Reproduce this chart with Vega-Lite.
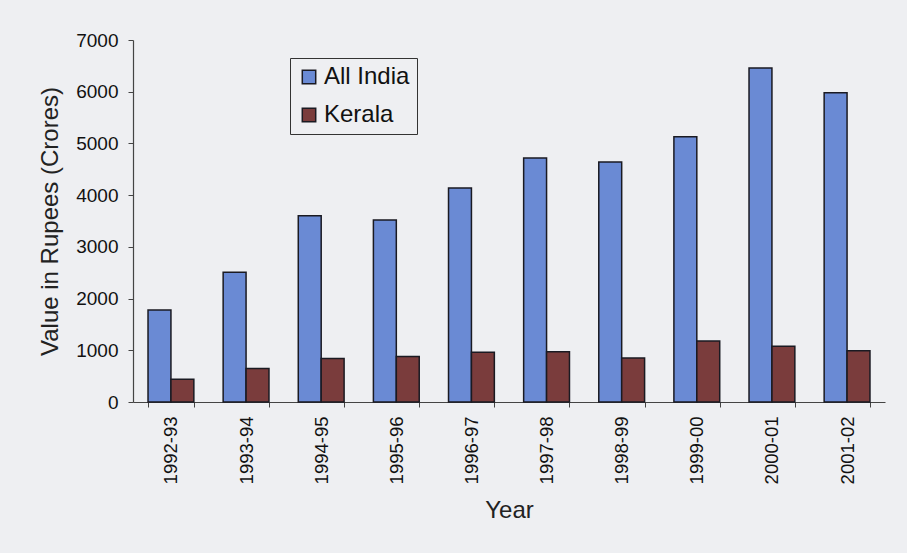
{
  "$schema": "https://vega.github.io/schema/vega-lite/v6.json",
  "autosize": {"type": "none"},
  "width": 752,
  "height": 362,
  "padding": {"left": 133, "top": 40, "right": 22, "bottom": 151},
  "background": "#eeeff2",
  "data": {
    "values": [
      {"year": "1992-93", "region": "All India", "value": 1780},
      {"year": "1993-94", "region": "All India", "value": 2510},
      {"year": "1994-95", "region": "All India", "value": 3600},
      {"year": "1995-96", "region": "All India", "value": 3520},
      {"year": "1996-97", "region": "All India", "value": 4140},
      {"year": "1997-98", "region": "All India", "value": 4720},
      {"year": "1998-99", "region": "All India", "value": 4640},
      {"year": "1999-00", "region": "All India", "value": 5130},
      {"year": "2000-01", "region": "All India", "value": 6460},
      {"year": "2001-02", "region": "All India", "value": 5980},
      {"year": "1992-93", "region": "Kerala", "value": 440},
      {"year": "1993-94", "region": "Kerala", "value": 650},
      {"year": "1994-95", "region": "Kerala", "value": 840},
      {"year": "1995-96", "region": "Kerala", "value": 880},
      {"year": "1996-97", "region": "Kerala", "value": 960},
      {"year": "1997-98", "region": "Kerala", "value": 970},
      {"year": "1998-99", "region": "Kerala", "value": 850},
      {"year": "1999-00", "region": "Kerala", "value": 1180},
      {"year": "2000-01", "region": "Kerala", "value": 1080},
      {"year": "2001-02", "region": "Kerala", "value": 990}
    ]
  },
  "mark": {"type": "bar", "stroke": "#1a1a22", "strokeWidth": 1.5},
  "encoding": {
    "x": {
      "field": "year",
      "type": "nominal",
      "sort": null,
      "scale": {"paddingInner": 0.39, "paddingOuter": 0.2},
      "axis": {
        "title": "Year",
        "titleFont": "Liberation Sans",
        "titleFontSize": 24,
        "titleFontWeight": "normal",
        "titleColor": "#222",
        "titlePadding": 15,
        "labelAngle": -90,
        "labelFont": "Liberation Sans",
        "labelFontSize": 18.5,
        "labelColor": "#111",
        "labelPadding": 9,
        "tickBand": "extent",
        "tickSize": 5,
        "tickColor": "#444",
        "domainColor": "#444",
        "domainWidth": 1.2,
        "grid": false
      }
    },
    "xOffset": {"field": "region", "type": "nominal", "scale": {"paddingInner": 0, "paddingOuter": 0}},
    "y": {
      "field": "value",
      "type": "quantitative",
      "scale": {"domain": [0, 7000], "nice": false},
      "axis": {
        "title": "Value in Rupees (Crores)",
        "titleFont": "Liberation Sans",
        "titleFontSize": 24,
        "titleFontWeight": "normal",
        "titleColor": "#222",
        "titlePadding": 13,
        "values": [0, 1000, 2000, 3000, 4000, 5000, 6000, 7000],
        "format": "d",
        "labelFont": "Liberation Sans",
        "labelFontSize": 19,
        "labelColor": "#111",
        "labelPadding": 10,
        "tickSize": 5,
        "tickColor": "#444",
        "domainColor": "#444",
        "domainWidth": 1.2,
        "grid": false
      }
    },
    "color": {
      "field": "region",
      "type": "nominal",
      "scale": {"domain": ["All India", "Kerala"], "range": ["#6a8ad4", "#7a3c3c"]},
      "legend": {
        "title": null,
        "orient": "none",
        "legendX": 157,
        "legendY": 18,
        "symbolType": "square",
        "symbolSize": 180,
        "symbolStrokeColor": "#1a1a22",
        "symbolStrokeWidth": 1.5,
        "labelFont": "Liberation Sans",
        "labelFontSize": 24,
        "labelColor": "#111",
        "labelOffset": 3,
        "rowPadding": 14,
        "padding": 7,
        "strokeColor": "#333",
        "fillColor": "#eeeff2"
      }
    }
  },
  "config": {"view": {"stroke": null}}
}
